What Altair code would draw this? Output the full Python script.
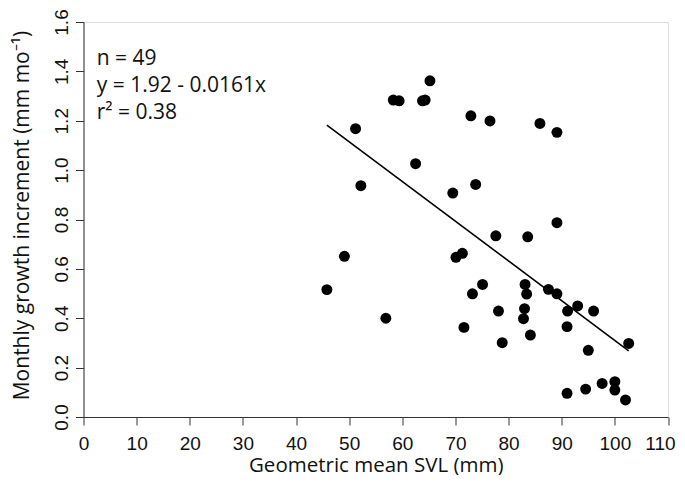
import altair as alt
import pandas as pd

# Data (Geometric mean SVL in mm, monthly growth increment in mm/mo)
svl = [65.2, 58.3, 59.4, 63.8, 64.3, 72.9, 76.5, 51.2, 62.5, 52.2,
       69.5, 73.8, 77.6, 85.9, 89.1, 89.1, 83.6, 49.1, 70.1, 71.3,
       45.8, 75.1, 73.2, 56.9, 71.6, 78.1, 78.8, 83.1, 83.4, 87.5,
       89.1, 83.0, 82.8, 84.1, 91.1, 93.0, 96.0, 91.0, 102.6, 95.0,
       91.0, 94.5, 97.6, 100.0, 100.0, 102.0]
growth = [1.362, 1.284, 1.281, 1.281, 1.284, 1.220, 1.199, 1.168, 1.026, 0.937,
          0.907, 0.942, 0.734, 1.189, 1.153, 0.787, 0.730, 0.651, 0.647, 0.663,
          0.516, 0.537, 0.499, 0.400, 0.363, 0.429, 0.301, 0.537, 0.498, 0.517,
          0.499, 0.439, 0.398, 0.332, 0.429, 0.450, 0.429, 0.366, 0.298, 0.270,
          0.096, 0.113, 0.136, 0.143, 0.109, 0.069]

intercept = 1.92
slope = -0.0161

anno_lines = ["n = 49", "y = 1.92 - 0.0161x", "r\u00b2 = 0.38"]
anno_x = [2.5, 2.5, 2.5]
anno_y = [1.426, 1.316, 1.207]

x_ticks = list(range(0, 111, 10))
y_ticks = [0.0, 0.2, 0.4, 0.6, 0.8, 1.0, 1.2, 1.4, 1.6]

pts = pd.DataFrame({"svl": svl, "growth": growth})
x0, x1 = min(svl), max(svl)
fit = pd.DataFrame({"svl": [x0, x1], "growth": [intercept + slope * x0, intercept + slope * x1]})
anno = pd.DataFrame({"t": anno_lines, "x": anno_x, "y": anno_y})

TITLE_FONT = "Open Sans"
TICK_FONT = "Liberation Sans"

xscale = alt.Scale(domain=[0, 110], nice=False, zero=False)
yscale = alt.Scale(domain=[0, 1.6], nice=False, zero=False)

xaxis = alt.Axis(values=x_ticks, grid=False, tickSize=8, tickColor="#333", domainColor="#333",
                 labelFont=TICK_FONT, labelFontSize=19, labelColor="#111", labelPadding=9,
                 labelFlush=False, labelOverlap=False,
                 labelOffset={"condition": {"test": "datum.value >= 110", "value": -8}, "value": 0},
                 title="Geometric mean SVL (mm)", titleFont=TITLE_FONT, titleFontSize=20.5,
                 titleFontWeight="normal", titleColor="#111", titleY=54.5, titleBaseline="alphabetic")
yaxis = alt.Axis(values=y_ticks, format=".1f", grid=False, tickSize=8, tickColor="#333",
                 domainColor="#333", labelFont=TICK_FONT, labelFontSize=19, labelColor="#111",
                 labelAngle=270, labelAlign="center", labelBaseline="bottom", labelPadding=4,
                 labelFlush=False, labelOverlap=False,
                 title="Monthly growth increment (mm mo\u207b\u00b9)", titleFont=TITLE_FONT,
                 titleFontSize=21, titleFontWeight="normal", titleColor="#111",
                 titleAngle=270, titleAlign="center", titleBaseline="alphabetic",
                 titleX=-55, titleY=193)

points = alt.Chart(pts).mark_circle(size=120, color="black", opacity=1).encode(
    x=alt.X("svl:Q", scale=xscale, axis=xaxis),
    y=alt.Y("growth:Q", scale=yscale, axis=yaxis),
)
line = alt.Chart(fit).mark_line(color="black", strokeWidth=1.6).encode(
    x=alt.X("svl:Q", scale=xscale),
    y=alt.Y("growth:Q", scale=yscale),
)
text = alt.Chart(anno).mark_text(align="left", baseline="alphabetic", font=TITLE_FONT,
                                 fontSize=21, color="#111").encode(
    x=alt.X("x:Q", scale=xscale),
    y=alt.Y("y:Q", scale=yscale),
    text="t:N",
)

chart = alt.layer(points, line, text).properties(
    width=584.5, height=395,
    autosize=alt.AutoSizeParams(type="none"),
    padding={"left": 75.5, "top": 14, "right": 9, "bottom": 58},
).configure_view(stroke=None).configure(background="white")

chart.save("out.html", embed_options={"renderer": "svg", "actions": False})
